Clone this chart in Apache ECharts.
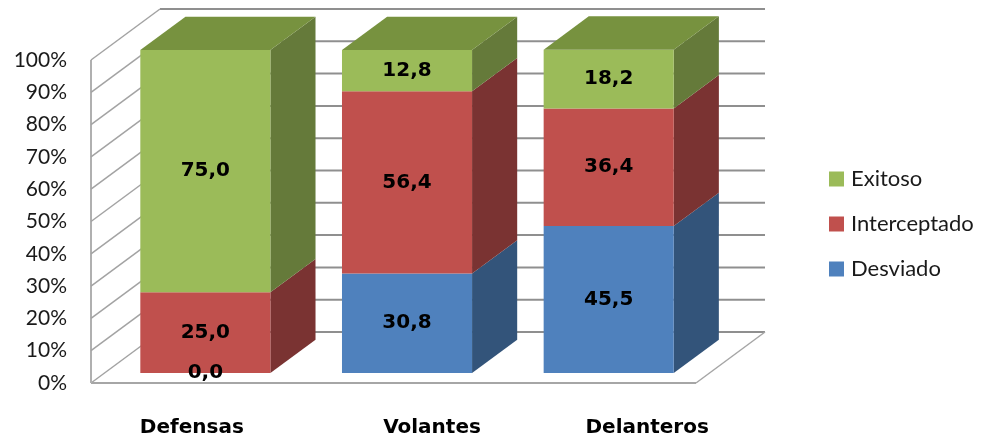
<!DOCTYPE html>
<html>
<head>
<meta charset="utf-8">
<script src="https://cdn.jsdelivr.net/npm/echarts@6/dist/echarts.min.js"></script>
<style>
  html, body { margin: 0; padding: 0; background: #ffffff; }
  #chart { width: 984px; height: 440px; }
</style>
</head>
<body>
<div id="chart"></div>
<script>
// Stacked shares (%) per player line
const categories = ['Defensas', 'Volantes', 'Delanteros'];
const desviado = [0.0, 30.8, 45.5];
const interceptado = [25.0, 56.4, 36.4];
const exitoso = [75.0, 12.8, 18.2];
const yTicks = [0, 10, 20, 30, 40, 50, 60, 70, 80, 90, 100];
const legendOrder = ['Exitoso', 'Interceptado', 'Desviado'];

// Stacking order, bottom to top
const stack = [
  { name: 'Desviado', values: desviado },
  { name: 'Interceptado', values: interceptado },
  { name: 'Exitoso', values: exitoso }
];

// Face shading per series
const palette = {
  Desviado:     { front: '#4F81BD', side: '#33547A', top: '#3F6898' },
  Interceptado: { front: '#C0504D', side: '#7A3332', top: '#9A403D' },
  Exitoso:      { front: '#9BBB59', side: '#657A3A', top: '#77923F' }
};

// Oblique projection: full floor depth shifts a point by (DX, DY)
const DX = 69, DY = -51;
const D_FRONT = 0.196, D_BACK = 0.85;
const BAR_RATIO = 0.645;
// horizontal nudges of the category captions (padding-left, px)
const captionPad = [0, 77, 104];

const fmt = v => v.toFixed(1).replace('.', ',');

// cumulative bases and top-most visible segment per category
const bases = stack.map((s, k) =>
  s.values.map((_, i) => stack.slice(0, k).reduce((acc, t) => acc + t.values[i], 0)));
const topIndex = categories.map((_, i) => {
  let t = 0;
  stack.forEach((s, k) => { if (s.values[i] > 0) t = k; });
  return t;
});

function barRenderer(k) {
  const col = palette[stack[k].name];
  return function (params, api) {
    const i = api.value(0), lo = api.value(1), hi = api.value(2), val = api.value(3);
    const band = api.size([1, 0])[0];
    const half = band * BAR_RATIO / 2;
    const c0 = api.coord([i, lo]);
    const c1 = api.coord([i, hi]);
    const fx = DX * D_FRONT, fy = DY * D_FRONT;
    const bx = DX * D_BACK, by = DY * D_BACK;
    const xl = c0[0] - half, xr = c0[0] + half;
    const yb = c0[1], yt = c1[1];
    const children = [];
    if (yb - yt > 0.01) {
      children.push({
        type: 'polygon',
        shape: { points: [[xr + fx, yt + fy], [xr + bx, yt + by], [xr + bx, yb + by], [xr + fx, yb + fy]] },
        style: { fill: col.side }
      });
      children.push({
        type: 'rect',
        shape: { x: xl + fx, y: yt + fy, width: 2 * half, height: yb - yt },
        style: { fill: col.front }
      });
    }
    if (topIndex[i] === k) {
      children.push({
        type: 'polygon',
        shape: { points: [[xl + fx, yt + fy], [xl + bx, yt + by], [xr + bx, yt + by], [xr + fx, yt + fy]] },
        style: { fill: col.top }
      });
    }
    children.push({
      type: 'text',
      z2: 100,
      style: {
        x: c0[0] + fx, y: (yb + yt) / 2 + fy,
        text: fmt(val),
        align: 'center', verticalAlign: 'middle',
        fontFamily: 'DejaVu Sans', fontWeight: 'bold', fontSize: 20, fill: '#000000'
      }
    });
    return { type: 'group', children: children };
  };
}

function wallRenderer(params, api) {
  const cs = params.coordSys;
  const v = api.value(0);
  const y = api.coord([0, v])[1];
  const x0 = cs.x, x1 = cs.x + cs.width;
  const children = [
    { type: 'line', shape: { x1: x0 + DX, y1: y + DY, x2: x1 + DX, y2: y + DY },
      style: { stroke: '#8F8F8F', lineWidth: 2 } },
    { type: 'line', shape: { x1: x0, y1: y, x2: x0 + DX, y2: y + DY },
      style: { stroke: '#A3A3A3', lineWidth: 1.5 } }
  ];
  if (params.dataIndex === 0) {
    const yb = cs.y + cs.height, ytop = cs.y;
    children.push(
      { type: 'line', shape: { x1: x0, y1: yb, x2: x1, y2: yb }, style: { stroke: '#A6A6A6', lineWidth: 2 } },
      { type: 'line', shape: { x1: x1, y1: yb, x2: x1 + DX, y2: yb + DY }, style: { stroke: '#A6A6A6', lineWidth: 1.5 } },
      { type: 'line', shape: { x1: x0, y1: yb, x2: x0, y2: ytop }, style: { stroke: '#B0B0B0', lineWidth: 2 } }
    );
  }
  return { type: 'group', children: children };
}

const chart = echarts.init(document.getElementById('chart'), null, { renderer: 'canvas' });

const series = [{
  type: 'custom',
  name: 'walls',
  z: 1,
  silent: true,
  renderItem: wallRenderer,
  data: yTicks.map(v => [v])
}].concat(stack.map((s, k) => ({
  type: 'custom',
  name: s.name,
  z: 2,
  silent: true,
  itemStyle: { color: palette[s.name].front },
  renderItem: barRenderer(k),
  encode: { x: 0, y: 2 },
  data: s.values.map((v, i) => [i, bases[k][i], bases[k][i] + v, v])
})));

chart.setOption({
  animation: false,
  backgroundColor: '#ffffff',
  grid: { left: 91, right: 288, top: 60, bottom: 57 },
  xAxis: {
    type: 'category',
    data: categories.map((c, i) => ({ value: c, textStyle: { padding: [0, 0, 0, captionPad[i]] } })),
    axisLine: { show: false },
    axisTick: { show: false },
    splitLine: { show: false },
    axisLabel: {
      margin: 35,
      fontFamily: 'DejaVu Sans', fontWeight: 'bold', fontSize: 20, color: '#000000'
    }
  },
  yAxis: {
    type: 'value',
    min: yTicks[0],
    max: yTicks[yTicks.length - 1],
    interval: yTicks[1] - yTicks[0],
    axisLine: { show: false },
    axisTick: { show: false },
    splitLine: { show: false },
    axisLabel: {
      margin: 24,
      formatter: v => v + '%',
      fontFamily: 'Lato', fontSize: 21, color: '#1A1A1A'
    }
  },
  legend: {
    data: legendOrder,
    orient: 'vertical',
    left: 829,
    top: 168,
    padding: 0,
    icon: 'rect',
    itemWidth: 15,
    itemHeight: 15,
    itemGap: 23,
    selectedMode: false,
    textStyle: { fontFamily: 'Lato', fontSize: 22, color: '#1A1A1A', lineHeight: 22, padding: [0, 0, 0, 2] }
  },
  series: series
});
</script>
</body>
</html>
